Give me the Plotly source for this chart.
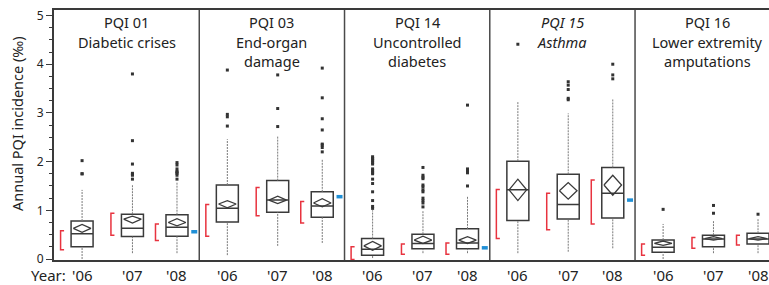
import plotly.graph_objects as go

# ---------------- data ----------------
panels = ["PQI 01", "PQI 03", "PQI 14", "<i>PQI 15</i>", "PQI 16"]
subtitles = [["Diabetic crises"], ["End-organ", "damage"], ["Uncontrolled", "diabetes"],
             ["<i>Asthma</i>"], ["Lower extremity", "amputations"]]
years = ["'06", "'07", "'08"]

# per panel, per year
q1 = [[0.25, 0.46, 0.47], [0.76, 0.96, 0.86], [0.08, 0.21, 0.21], [0.79, 0.82, 0.84], [0.14, 0.25, 0.31]]
median = [[0.52, 0.63, 0.65], [1.04, 1.21, 1.09], [0.20, 0.32, 0.33], [1.42, 1.12, 1.35], [0.24, 0.41, 0.41]]
q3 = [[0.78, 0.92, 0.91], [1.52, 1.61, 1.38], [0.42, 0.51, 0.62], [2.01, 1.74, 1.88], [0.39, 0.49, 0.53]]
mean = [[0.63, 0.82, 0.75], [1.13, 1.21, 1.15], [0.27, 0.39, 0.39], [1.42, 1.40, 1.52], [0.32, 0.42, 0.42]]
mean_lo = [[0.55, 0.74, 0.68], [1.05, 1.14, 1.07], [0.18, 0.32, 0.32], [1.20, 1.23, 1.31], [0.28, 0.39, 0.39]]
mean_hi = [[0.71, 0.88, 0.83], [1.20, 1.29, 1.24], [0.36, 0.47, 0.46], [1.64, 1.57, 1.72], [0.37, 0.46, 0.46]]
whisker_lo = [[0.00, 0.12, 0.12], [0.08, 0.27, 0.33], [0.02, 0.12, 0.12], [0.12, 0.15, 0.22], [0.00, 0.12, 0.12]]
whisker_hi = [[1.42, 1.53, 1.57], [2.46, 2.53, 2.05], [1.00, 1.00, 1.28], [3.23, 2.99, 3.29], [0.72, 0.79, 0.82]]
outliers = [
    [[2.02, 1.75, 1.75], [3.80, 2.43, 1.95, 1.76, 1.74, 1.72, 1.64], [1.98, 1.93, 1.85, 1.80, 1.78, 1.76, 1.72, 1.64]],
    [[3.88, 2.97, 2.92, 2.73], [3.78, 3.09, 2.72], [3.92, 3.31, 2.88, 2.65, 2.36, 2.34, 2.29, 2.20]],
    [[2.10, 2.07, 2.05, 2.02, 1.98, 1.95, 1.85, 1.82, 1.78, 1.75, 1.64, 1.55, 1.38, 1.20, 1.08, 1.04],
     [1.88, 1.72, 1.68, 1.65, 1.52, 1.48, 1.42, 1.38, 1.25, 1.20, 1.15, 1.07],
     [3.16, 1.85, 1.80, 1.77, 1.50]],
    [[4.41], [3.64, 3.57, 3.48, 3.30, 3.27], [4.00, 3.78, 3.70]],
    [[1.02], [1.10, 0.94], [0.92]],
]
ref_lo = [[0.19, 0.49, 0.38], [0.47, 0.89, 0.74], [-0.01, 0.10, 0.10], [0.42, 0.60, 0.72], [0.08, 0.22, 0.29]]
ref_hi = [[0.58, 0.94, 0.72], [1.12, 1.47, 1.18], [0.25, 0.31, 0.33], [1.43, 1.35, 1.62], [0.31, 0.44, 0.49]]
target = [0.56, 1.28, 0.23, 1.21, None]

y_ticks = [0, 1, 2, 3, 4, 5]

# ---------------- layout constants ----------------
W, H = 769, 285
ML, MT, MB = 54, 10, 25
PANEL_W = 3.0
YEAR_OFF = [0.58, 1.62, 2.54]
UNIT_PX = 48.42
X_MAX = (W - ML) / UNIT_PX
Y_MIN, Y_MAX = -0.02, 5.113
BOX_W = 22 / UNIT_PX
DIA_HW = 0.8 * BOX_W / 2
BR_OFF = -21.5 / UNIT_PX
BR_TICK = 3.5 / UNIT_PX
DARK = "#3a3a3a"
RED = "#e8333f"
BLUE = "#1f8fd6"
FONT = "Noto Sans"
TXT = "#222222"

fig = go.Figure()

def xpos(p, j):
    return p * PANEL_W + YEAR_OFF[j]

# whiskers (dotted)
wx, wy = [], []
for p in range(len(panels)):
    for j in range(len(years)):
        x = xpos(p, j)
        wx += [x, x, None, x, x, None]
        wy += [whisker_lo[p][j], q1[p][j], None, q3[p][j], whisker_hi[p][j], None]
fig.add_trace(go.Scatter(x=wx, y=wy, mode="lines", line=dict(color="#7a7a7a", width=1, dash="2px,1px"),
                         hoverinfo="skip", showlegend=False))

# boxes
for p in range(len(panels)):
    for j in range(len(years)):
        fig.add_trace(go.Box(x=[xpos(p, j)], q1=[q1[p][j]], median=[median[p][j]], q3=[q3[p][j]],
                             lowerfence=[q1[p][j]], upperfence=[q3[p][j]], width=BOX_W,
                             fillcolor="white", line=dict(color=DARK, width=1.5), whiskerwidth=0,
                             boxpoints=False, showlegend=False, hoverinfo="skip"))

# means diamonds
dx, dy = [], []
for p in range(len(panels)):
    for j in range(len(years)):
        x = xpos(p, j)
        m = mean[p][j]
        dx += [x - DIA_HW, x, x + DIA_HW, x, x - DIA_HW, None]
        dy += [m, mean_hi[p][j], m, mean_lo[p][j], m, None]
fig.add_trace(go.Scatter(x=dx, y=dy, mode="lines", line=dict(color=DARK, width=1.3),
                         hoverinfo="skip", showlegend=False))

# outliers
ox, oy = [], []
for p in range(len(panels)):
    for j in range(len(years)):
        for v in outliers[p][j]:
            ox.append(xpos(p, j))
            oy.append(v)
fig.add_trace(go.Scatter(x=ox, y=oy, mode="markers",
                         marker=dict(symbol="square", size=3, color="#333333", line=dict(width=0)),
                         hoverinfo="skip", showlegend=False))

# red reference brackets
rx, ry = [], []
for p in range(len(panels)):
    for j in range(len(years)):
        x = xpos(p, j) + BR_OFF
        rx += [x + BR_TICK, x, x, x + BR_TICK, None]
        ry += [ref_hi[p][j], ref_hi[p][j], ref_lo[p][j], ref_lo[p][j], None]
fig.add_trace(go.Scatter(x=rx, y=ry, mode="lines", line=dict(color=RED, width=1.5),
                         hoverinfo="skip", showlegend=False))

# blue target marks
bx, by = [], []
for p, t in enumerate(target):
    if t is None:
        continue
    xc = (p + 1) * PANEL_W - 5 / UNIT_PX
    bx += [xc - 3 / UNIT_PX, xc + 3 / UNIT_PX, None]
    by += [t, t, None]
fig.add_trace(go.Scatter(x=bx, y=by, mode="lines", line=dict(color=BLUE, width=3.5),
                         hoverinfo="skip", showlegend=False))

# panel dividers
shapes = []
for p in range(1, len(panels)):
    shapes.append(dict(type="line", xref="x", yref="paper", x0=p * PANEL_W, x1=p * PANEL_W,
                       y0=0, y1=1, line=dict(color="#4a4a4a", width=1.5)))

# panel titles
plot_h = H - MT - MB
plot_w = W - ML
def py(px):
    return (H - MB - px) / plot_h

def pxx(px):
    return (px - ML) / plot_w

annotations = []
line_y = [22, 42, 61]
for p in range(len(panels)):
    xc = p * PANEL_W + PANEL_W / 2
    lines = [panels[p]] + subtitles[p]
    for k, txt in enumerate(lines):
        annotations.append(dict(x=xc, y=py(line_y[k]), xref="x", yref="paper", text=txt,
                                showarrow=False, font=dict(family=FONT, size=14.5, color=TXT),
                                xanchor="center", yanchor="middle"))

annotations.append(dict(x=pxx(17), y=py(124), xref="paper", yref="paper", text="Annual PQI incidence (‰)",
                        textangle=-90, showarrow=False, font=dict(family=FONT, size=14.5, color=TXT),
                        xanchor="center", yanchor="middle"))
YEAR_Y = 274.5
YEAR_FS = 15
annotations.append(dict(x=pxx(68), y=py(YEAR_Y), xref="paper", yref="paper", text="Year:",
                        showarrow=False, font=dict(family=FONT, size=YEAR_FS, color=TXT),
                        xanchor="right", yanchor="middle"))

# x tick labels (years) under each box
for p in range(len(panels)):
    for j in range(len(years)):
        annotations.append(dict(x=xpos(p, j), y=py(YEAR_Y), xref="x", yref="paper", text=years[j],
                                showarrow=False, font=dict(family=FONT, size=YEAR_FS, color=TXT),
                                xanchor="center", yanchor="middle"))

fig.update_layout(
    width=W, height=H, margin=dict(l=ML, r=0, t=MT, b=MB, pad=0, autoexpand=False),
    plot_bgcolor="white", paper_bgcolor="white",
    shapes=shapes, annotations=annotations, showlegend=False,
    xaxis=dict(range=[0, X_MAX], showticklabels=False, ticks="", automargin=False,
               showgrid=False, zeroline=False, showline=True, mirror=True, linecolor=DARK, linewidth=2),
    yaxis=dict(range=[Y_MIN, Y_MAX], tickvals=y_ticks, ticks="outside", ticklen=6, tickwidth=1,
               tickcolor=DARK, showgrid=False, zeroline=False, showline=True, linecolor=DARK, linewidth=2,
               automargin=False, tickfont=dict(family=FONT, size=12, color=TXT),
               minor=dict(dtick=0.25, tick0=0, ticks="outside", ticklen=3, tickcolor=DARK, showgrid=False)),
)

fig.write_html("out.html", config={"displayModeBar": False, "staticPlot": True},
               post_script="document.body.style.margin='0';document.body.style.overflow='hidden';")
